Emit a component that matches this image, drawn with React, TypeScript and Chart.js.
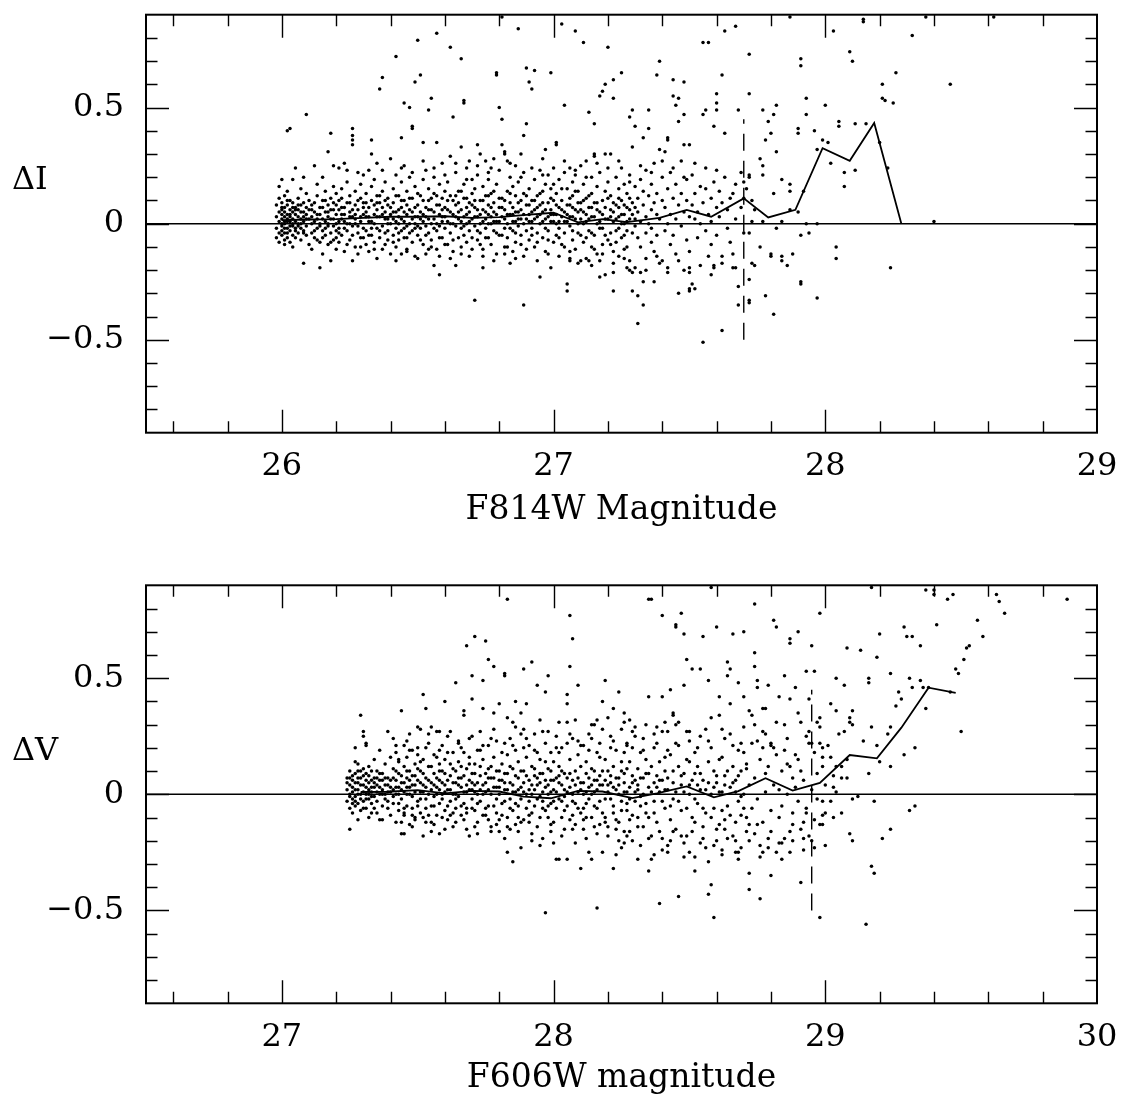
import React, { useEffect, useRef } from "react";
import { Chart, registerables } from "chart.js";

Chart.register(...registerables);

// ---------------- axis labels / ticks ----------------
const TOP_X_LABELS = [26, 27, 28, 29];
const BOTTOM_X_LABELS = [27, 28, 29, 30];
const Y_LABELS = [-0.5, 0, 0.5];

// ---------------- top panel: F814W (ΔI) ----------------
// flat lists of (magnitude, ΔI) pairs
const topStars1 = [
  25.98,.03, 25.98,-.02, 25.98,.08, 25.98,-.06, 25.99,.01, 25.99,.05, 25.99,-.04, 25.99,.11, 25.99,-.08, 25.99,.16,
  26.00,.02, 26.00,-.01, 26.00,.06, 26.00,-.05, 26.00,.09, 26.00,-.03, 26.00,.19, 26.00,.04, 26.01,-.07, 26.01,.00,
  26.01,.03, 26.01,.07, 26.01,-.02, 26.01,.12, 26.01,-.09, 26.01,.05, 26.02,.01, 26.02,-.04, 26.02,.08, 26.02,.04,
  26.02,-.06, 26.02,.02, 26.02,.14, 26.03,-.01, 26.03,.06, 26.03,.03, 26.03,-.08, 26.03,.10, 26.03,.41, 26.03,-.03,
  26.04,.00, 26.04,.05, 26.04,-.05, 26.04,.09, 26.04,.19, 26.04,.02, 26.04,-.10, 26.05,.04, 26.05,-.02, 26.05,.07,
  26.05,.24, 26.05,.01, 26.05,-.06, 26.06,.03, 26.06,-.01, 26.06,.11, 26.06,-.04, 26.06,.06, 26.07,.00, 26.07,.08,
  26.07,-.07, 26.07,.02, 26.07,.15, 26.08,.05, 26.08,-.03, 26.08,.20, 26.08,-.17, 26.08,.01, 26.08,.09, 26.09,-.05,
  26.09,.04, 26.09,.47, 26.09,.13, 26.09,-.01, 26.10,.06, 26.10,-.09, 26.10,.02, 26.10,.10, 26.02,.40,
  26.11,.03, 26.11,-.04, 26.11,.08, 26.11,-.11, 26.12,.01, 26.12,.25, 26.12,.05, 26.12,-.06, 26.13,.12, 26.13,-.02,
  26.13,.04, 26.13,.17, 26.14,-.08, 26.14,.00, 26.14,-.19, 26.14,.07, 26.15,.20, 26.15,.02, 26.15,-.03, 26.15,.10,
  26.15,-.13, 26.16,.05, 26.16,-.05, 26.16,.14, 26.16,.01, 26.17,.31, 26.17,-.01, 26.17,.08, 26.17,-.09, 26.17,.03,
  26.18,.39, 26.18,.06, 26.18,-.04, 26.18,.11, 26.18,-.16, 26.19,.25, 26.19,.02, 26.19,-.07, 26.19,.09, 26.19,.16,
  26.20,.00, 26.20,-.03, 26.20,.04, 26.20,.13, 26.20,-.11,
  26.21,.24, 26.21,.06, 26.21,-.02, 26.21,.10, 26.21,-.08, 26.22,.02, 26.22,.15, 26.22,-.05, 26.22,.07, 26.23,.26,
  26.23,.01, 26.23,-.12, 26.23,.04, 26.24,.23, 26.24,-.03, 26.24,.09, 26.24,.18, 26.25,.00, 26.25,-.07, 26.25,.05,
  26.25,.12, 26.26,.41, 26.26,.38, 26.26,.36, 26.26,.34, 26.26,-.16, 26.26,.03, 26.26,-.01, 26.27,.08, 26.27,-.10,
  26.27,.14, 26.27,.02, 26.28,.22, 26.28,-.04, 26.28,.06, 26.28,-.13, 26.29,.11, 26.29,.01, 26.29,-.06, 26.29,.17,
  26.30,.21, 26.30,.04, 26.30,-.02, 26.30,.09,
  26.31,-.09, 26.31,.13, 26.31,.03, 26.31,-.03, 26.32,.23, 26.32,.07, 26.32,-.12, 26.32,.01, 26.33,.36, 26.33,.30,
  26.33,.10, 26.33,-.05, 26.33,.16, 26.34,.04, 26.34,-.08, 26.34,.19, 26.34,.00, 26.35,.26, 26.35,.06, 26.35,-.02,
  26.35,-.15, 26.35,.12, 26.36,.58, 26.36,.03, 26.36,.09, 26.36,-.06, 26.37,.63, 26.37,.23, 26.37,-.01, 26.37,.14,
  26.37,-.11, 26.38,.05, 26.38,.02, 26.38,-.04, 26.38,.18, 26.39,.08, 26.39,-.07, 26.39,.11, 26.39,.00, 26.40,.28,
  26.40,.04, 26.40,-.13,
];

const topStars2 = [
  26.41,.02, 26.41,-.05, 26.41,.09, 26.41,.15, 26.42,.72, 26.42,-.02, 26.42,.05, 26.42,.21, 26.42,-.10, 26.43,.00,
  26.43,.12, 26.43,-.07, 26.43,.03, 26.44,.37, 26.44,.18, 26.44,-.03, 26.44,.07, 26.44,-.13, 26.45,.52, 26.45,.01,
  26.45,.10, 26.45,-.06, 26.45,.25, 26.46,.04, 26.46,-.01, 26.46,.14, 26.46,-.11, 26.47,.50, 26.47,.06, 26.47,-.04,
  26.47,.20, 26.48,.42, 26.48,.41, 26.48,.02, 26.48,-.08, 26.48,.11, 26.49,.61, 26.49,.00, 26.49,.16, 26.49,-.02,
  26.49,-.14, 26.50,.79, 26.50,.08, 26.50,-.05, 26.50,.03,
  26.51,.64, 26.51,.12, 26.51,-.02, 26.51,.05, 26.52,.35, 26.52,.19, 26.52,-.09, 26.52,.01, 26.53,-.13, 26.53,.07,
  26.53,.23, 26.53,.03, 26.54,.49, 26.54,-.04, 26.54,.10, 26.54,.15, 26.55,.54, 26.55,.00, 26.55,.06, 26.55,-.07,
  26.56,-.18, 26.56,.13, 26.56,.02, 26.56,.20, 26.57,.82, 26.57,.35, 26.57,-.03, 26.57,.08, 26.57,-.11, 26.58,-.22,
  26.58,.04, 26.58,.17, 26.58,-.01, 26.59,.11, 26.59,.26, 26.59,-.06, 26.59,.03, 26.60,.07, 26.60,-.02, 26.60,.14,
  26.61,.01, 26.61,-.09, 26.61,.18, 26.62,.76, 26.62,.29, 26.62,.05, 26.62,-.04, 26.63,.46, 26.63,.10, 26.63,.00,
  26.63,-.12, 26.64,-.18, 26.64,.03, 26.64,.22, 26.64,.08, 26.65,-.06, 26.65,.14, 26.65,.02, 26.66,.71, 26.66,.33,
  26.66,.06, 26.66,-.02, 26.66,-.10, 26.67,.53, 26.67,.52, 26.67,.11, 26.67,.17, 26.67,-.05, 26.68,.04, 26.68,-.08,
  26.68,.24, 26.68,.00, 26.69,.27, 26.69,.09, 26.69,-.03, 26.69,-.14, 26.70,.13, 26.70,.02, 26.70,.19,
  26.71,-.33, 26.71,.07, 26.71,-.01, 26.71,.15, 26.72,.34, 26.72,.03, 26.72,-.07, 26.72,.21, 26.73,.30, 26.73,.10,
  26.73,-.04, 26.73,.00, 26.74,-.19, 26.74,.06, 26.74,.16, 26.74,-.11, 26.75,.27, 26.75,.02, 26.75,.12, 26.75,-.02,
  26.76,.08, 26.76,-.06, 26.76,.19, 26.76,.04, 26.77,.24, 26.77,.00, 26.77,-.09, 26.77,.13, 26.78,.28, 26.78,.05,
  26.78,-.03, 26.78,.09, 26.79,.65, 26.79,.64, 26.79,.01, 26.79,-.13, 26.79,.17, 26.80,.50, 26.80,.07, 26.80,-.05,
  26.81,.89, 26.81,.45, 26.81,.34, 26.81,.03, 26.81,.11, 26.82,.31, 26.82,.30, 26.82,-.02, 26.82,.06, 26.82,-.10,
  26.83,.27, 26.83,.14, 26.83,.00, 26.83,-.06, 26.84,-.17, 26.84,.09, 26.84,.20, 26.84,.04, 26.85,-.03, 26.85,.16,
  26.85,.07, 26.85,-.12, 26.86,.01, 26.86,.12, 26.86,.25, 26.86,-.08, 26.87,.84, 26.87,.05, 26.87,-.01, 26.87,.18,
  26.88,.30, 26.88,.10, 26.88,-.05, 26.88,.02, 26.89,.38, 26.89,-.35, 26.89,.13, 26.89,.22, 26.89,-.14, 26.90,.67,
  26.90,.08, 26.90,-.03,
  26.90,.43, 26.91,.61, 26.91,.04, 26.91,.15, 26.91,-.07, 26.92,.58, 26.92,.01, 26.92,.10, 26.92,-.02, 26.93,.66,
  26.93,.19, 26.93,.06, 26.93,-.10, 26.94,.03, 26.94,.12, 26.94,-.04, 26.95,-.23, 26.95,.08, 26.95,.23, 26.95,.00,
  26.96,.14, 26.96,-.06, 26.96,.05, 26.96,.28, 26.97,.32, 26.97,.02, 26.97,-.12, 26.97,.17, 26.98,.09, 26.98,.21,
  26.98,-.03, 26.99,.65, 26.99,-.19, 26.99,.06, 26.99,.11, 26.99,.01, 27.00,.24, 27.00,.04, 27.00,-.08,
];

const topStars3 = [
  27.01,.35, 27.01,.34, 27.01,.13, 27.01,.00, 27.01,-.05, 27.02,.07, 27.02,.19, 27.02,-.02, 27.03,.86, 27.03,.03,
  27.03,.10, 27.03,-.09, 27.04,.51, 27.04,.22, 27.04,.05, 27.04,-.04, 27.05,-.26, 27.05,-.29, 27.05,.15, 27.05,.01,
  27.06,-.15, 27.06,-.16, 27.06,.24, 27.06,.08, 27.06,-.01, 27.07,.18, 27.07,.03, 27.07,-.07, 27.07,.12, 27.08,.83,
  27.08,.21, 27.08,.06, 27.08,-.11, 27.09,-.17, 27.09,.14, 27.09,.00, 27.09,-.04, 27.10,.09, 27.10,.25, 27.10,.02,
  27.11,.78, 27.11,.05, 27.11,-.08, 27.11,.17, 27.12,-.15, 27.12,.11, 27.12,.01, 27.12,.27, 27.13,-.16, 27.13,.48,
  27.13,.07, 27.13,-.03, 27.14,.20, 27.14,.03, 27.14,-.10, 27.14,.13, 27.15,.30, 27.15,.29, 27.15,.43, 27.15,-.05,
  27.15,.09, 27.16,.00, 27.16,.16, 27.16,-.13, 27.17,.55, 27.17,-.23, 27.17,-.16, 27.17,.05, 27.17,.22, 27.18,.57,
  27.18,.10, 27.18,-.02, 27.19,.60, 27.19,.30, 27.19,-.22, 27.19,.02, 27.19,.14, 27.20,.76, 27.20,-.07, 27.20,.18,
  27.21,.30, 27.21,.06, 27.21,.12, 27.21,-.04, 27.22,.62, 27.22,.54, 27.22,-.21, 27.22,-.29, 27.22,-.12, 27.22,.01,
  27.23,.20, 27.23,.08, 27.23,-.08, 27.24,.15, 27.24,.03, 27.24,-.02, 27.24,-.14, 27.25,.65, 27.25,.24, 27.25,.10,
  27.25,-.06, 27.26,.04, 27.26,.17, 27.26,-.11, 27.26,.00, 27.27,-.19, 27.27,.13, 27.27,.07, 27.27,-.03, 27.28,.46,
  27.28,-.16, 27.28,-.20, 27.28,.21, 27.28,.02, 27.29,.49, 27.29,-.29, 27.29,-.21, 27.29,.33, 27.29,.09, 27.30,.42,
  27.30,-.01, 27.30,.16,
  27.31,-.43, 27.31,-.31, 27.31,.05, 27.31,.11, 27.31,-.06, 27.32,-.21, 27.32,.19, 27.32,.01, 27.32,-.10, 27.33,.37,
  27.33,-.25, 27.33,-.35, 27.33,.08, 27.33,.14, 27.34,.03, 27.34,-.04, 27.34,.23, 27.34,-.15, 27.35,.49, 27.35,.41,
  27.35,.12, 27.35,.00, 27.36,.06, 27.36,-.08, 27.36,.17, 27.36,-.02, 27.37,-.25, 27.37,.09, 27.37,-.12, 27.37,.26,
  27.38,.64, 27.38,.04, 27.38,.13, 27.38,-.05, 27.39,.70, 27.39,.32, 27.39,.02, 27.39,-.17, 27.40,.10, 27.40,-.16,
  27.40,.20,
  27.41,.07, 27.41,-.03, 27.41,.31, 27.42,.37, 27.42,.36, 27.42,-.19, 27.42,.15, 27.42,.00, 27.43,.04, 27.43,-.09,
  27.43,.22, 27.44,.62, 27.44,.55, 27.44,.11, 27.44,-.05, 27.45,.51, 27.45,.02, 27.45,-.13, 27.45,.17, 27.46,.44,
  27.46,.54, 27.46,-.30, 27.46,.08, 27.47,-.01, 27.47,.13, 27.47,.27, 27.48,.61, 27.48,.47, 27.48,.34, 27.48,-.20,
  27.48,.05, 27.49,.19, 27.49,-.07, 27.49,.10, 27.50,.34, 27.50,-.29, 27.50,-.28, 27.50,-.19, 27.50,-.21, 27.50,.03,
  27.51,-.26, 27.51,.08, 27.51,.21, 27.52,-.28, 27.52,.02, 27.52,.13, 27.53,.05, 27.53,-.06, 27.54,.16, 27.54,.00,
  27.55,.47, 27.55,.78, 27.55,-.51, 27.55,.09, 27.56,.49, 27.56,-.03, 27.56,.24, 27.57,.78, 27.57,-.14, 27.57,.04,
  27.58,.11, 27.58,-.09, 27.58,.01, 27.59,.42, 27.59,-.19, 27.59,-.18, 27.59,.18, 27.60,.56, 27.60,.52, 27.60,.49,
  27.60,.07, 27.60,-.05,
];

const topStars4 = [
  27.61,.14, 27.61,.03, 27.62,.64, 27.62,-.14, 27.62,-.17, 27.62,-.46, 27.62,.09, 27.63,.83, 27.63,.39, 27.63,.20,
  27.64,.06, 27.64,-.02, 27.65,.11, 27.65,-.08, 27.66,-.19, 27.66,-.13, 27.66,.13, 27.67,.85, 27.67,-.19, 27.67,.17,
  27.67,.02, 27.68,.49, 27.68,-.27, 27.68,-.35, 27.69,.07, 27.69,.22, 27.70,-.04, 27.70,.18, 27.70,.11,
  27.71,.15, 27.72,.73, 27.72,.56, 27.72,.20, 27.72,.21, 27.72,-.24, 27.72,-.33, 27.72,-.34, 27.72,-.04, 27.73,.10,
  27.73,.01, 27.73,-.17, 27.74,-.18, 27.74,.06, 27.76,.28, 27.76,-.10, 27.77,.49, 27.77,.25, 27.77,.21, 27.77,.01,
  27.78,.36, 27.78,-.31, 27.79,.44, 27.80,.39, 27.80,-.13, 27.80,-.14,
  27.81,.47, 27.81,.13, 27.81,-.39, 27.82,.51, 27.82,.31, 27.82,-.02, 27.84,.19, 27.84,.01, 27.84,-.14, 27.84,-.16,
  27.86,-.18, 27.87,.89, 27.87,.17, 27.87,.14, 27.87,.06, 27.88,-.13, 27.90,.41, 27.90,.05,
  27.91,.71, 27.91,.68, 27.91,-.05, 27.91,-.25, 27.91,-.26, 27.90,.39, 27.92,.14, 27.93,.54, 27.93,.47, 27.93,.00,
  27.94,-.04, 27.96,.40, 27.97,.32, 27.97,.00, 27.97,-.32, 27.99,.36, 28.00,.51,
  28.01,.35, 28.02,.26, 28.03,.83, 28.04,-.10, 28.04,-.15, 28.05,.44, 28.05,.42, 28.07,.22, 28.07,.16, 28.09,.74,
  28.10,.70, 28.11,.43, 28.11,.23, 28.14,.88, 28.14,.87, 28.15,.43, 28.20,.35, 28.21,.60, 28.21,.54, 28.22,.53,
  28.23,.24, 28.24,-.19, 28.25,.52, 28.26,.65, 28.32,.81, 28.37,.89, 28.40,.01, 28.46,.60, 28.62,.89,
];

const topStarsCore = [
  26.11,.00, 26.11,.06, 26.12,-.03, 26.12,.09, 26.13,-.07, 26.13,.02, 26.14,.04, 26.14,-.01, 26.15,.07, 26.15,-.06,
  26.16,.10, 26.16,-.02, 26.17,.00, 26.17,.05, 26.18,-.08, 26.18,.02, 26.19,.06, 26.19,-.01, 26.20,.08, 26.20,-.06,
  26.21,.01, 26.21,-.04, 26.22,.04, 26.22,.11, 26.23,-.02, 26.23,.07, 26.24,.00, 26.24,-.09, 26.25,.03, 26.25,.09,
  26.26,.06, 26.26,-.05, 26.27,.00, 26.27,.04, 26.28,.10, 26.28,-.01, 26.29,.03, 26.29,-.10, 26.30,.07, 26.30,-.06,
  26.31,.05, 26.31,.09, 26.32,-.05, 26.32,.03, 26.33,.01, 26.33,-.02, 26.34,.08, 26.34,-.11, 26.35,.03, 26.35,.09,
  26.36,-.03, 26.36,.12, 26.37,.04, 26.37,.07, 26.38,-.09, 26.38,.10, 26.39,.02, 26.39,-.03, 26.40,.07, 26.40,.00,
  26.41,.05, 26.41,-.08, 26.42,.01, 26.42,.12, 26.43,.06, 26.43,-.04, 26.44,.02, 26.44,.10, 26.45,-.02, 26.45,.05,
  26.46,.08, 26.46,-.06, 26.47,.00, 26.47,.11, 26.48,.05, 26.48,-.03, 26.49,.07, 26.49,.03, 26.50,-.01, 26.50,.13,
  26.51,.02, 26.51,-.07, 26.52,.04, 26.52,.10, 26.53,-.01, 26.53,-.05, 26.54,.06, 26.54,.02, 26.55,.11, 26.55,-.10,
  26.56,.05, 26.56,-.02, 26.57,.00, 26.57,.12, 26.58,.08, 26.58,-.06, 26.59,.01, 26.59,.06, 26.60,.03, 26.60,-.09,
  26.61,.06, 26.61,.10, 26.62,.00, 26.62,.12, 26.63,.04, 26.63,-.07, 26.64,-.01, 26.64,.12, 26.65,.05, 26.65,.09,
  26.66,.01, 26.66,.14, 26.67,.03, 26.67,-.01, 26.68,.07, 26.68,.11, 26.69,.01, 26.69,.05, 26.70,-.06, 26.70,.08,
  26.71,.03, 26.71,.10, 26.72,-.03, 26.72,.06, 26.73,.04, 26.73,-.09, 26.74,.01, 26.74,.10, 26.75,.05, 26.75,-.06,
  26.76,.00, 26.76,.12, 26.77,.03, 26.77,.07, 26.78,.01, 26.78,.14, 26.79,.04, 26.79,-.04, 26.80,.01, 26.80,.11,
  26.81,-.05, 26.81,.07, 26.82,.02, 26.82,.10, 26.83,.04, 26.83,-.10, 26.84,-.02, 26.84,.13, 26.85,.01, 26.85,.04,
  26.86,.05, 26.86,-.04, 26.87,.09, 26.87,.02, 26.88,.06, 26.88,-.09, 26.89,.04, 26.89,.00, 26.90,.12, 26.90,.02,
  26.91,.01, 26.91,.08, 26.92,-.05, 26.92,.05, 26.93,.02, 26.93,.10, 26.94,-.08, 26.94,.07, 26.95,.04, 26.95,.13,
  26.96,.01, 26.96,.09, 26.97,.06, 26.97,-.02, 26.98,.03, 26.98,-.07, 26.99,.04, 26.99,.15, 27.00,.01, 27.00,.10,
  27.01,.04, 27.01,.08, 27.02,.01, 27.02,-.06, 27.03,.06, 27.03,.15, 27.04,.01, 27.04,-.10, 27.05,.08, 27.05,.04,
  27.06,.03, 27.06,.11, 27.07,-.03, 27.07,.07, 27.08,.02, 27.08,.14, 27.09,.05, 27.09,.09, 27.10,-.05, 27.10,.06,
  27.11,.00, 27.11,.10, 27.12,.04, 27.12,-.06, 27.13,.12, 27.13,.02, 27.14,-.04, 27.14,.07, 27.15,.03, 27.15,-.11,
  27.16,.06, 27.16,.09, 27.17,-.02, 27.17,.01, 27.18,.04, 27.18,-.09, 27.19,.07, 27.19,-.05, 27.20,.02, 27.20,.11,
  27.21,.03, 27.21,-.09, 27.22,.05, 27.22,.09, 27.23,-.03, 27.23,.02, 27.24,.07, 27.24,.11, 27.25,.00, 27.25,.04,
  27.26,-.05, 27.26,.08, 27.27,.01, 27.27,-.10, 27.28,.06, 27.28,.11, 27.29,.04, 27.29,-.04, 27.30,.02, 27.30,.07,
  26.00,.00, 26.01,.01, 26.02,-.02, 26.03,.04, 26.04,-.01, 26.05,.06, 26.06,.00, 26.07,.05, 26.08,-.04, 26.09,.02,
  26.00,.07, 26.01,-.04, 26.02,.10, 26.03,.01, 26.04,.07, 26.05,-.03, 26.06,.08, 26.07,-.02, 26.08,.03, 26.09,.07,
];

const topStarsWide = [
  26.42,-.16, 26.44,.24, 26.46,-.12, 26.48,.22, 26.50,-.15, 26.52,.27, 26.54,-.11, 26.56,.24, 26.58,-.14, 26.60,.21,
  26.62,-.15, 26.64,.26, 26.66,-.13, 26.68,.19, 26.70,-.11, 26.72,.25, 26.74,-.14, 26.76,.22, 26.78,-.16, 26.80,.23,
  26.82,-.13, 26.84,.26, 26.86,-.15, 26.88,.20, 26.90,-.11, 26.92,.24, 26.94,-.16, 26.96,.21, 26.98,-.13, 27.00,.17,
  27.02,-.14, 27.04,.27, 27.06,-.12, 27.08,.23, 27.10,-.16, 27.12,.20, 27.14,-.18, 27.16,.26, 27.18,-.13, 27.20,.24,
  27.22,-.17, 27.24,.27, 27.26,-.15, 27.28,.18, 27.30,-.19, 27.32,.25, 27.34,-.20, 27.36,.22, 27.38,-.14, 27.40,.27,
  27.42,-.21, 27.44,.24, 27.46,-.16, 27.48,.20, 27.50,-.12, 27.52,.26, 27.54,-.18, 27.56,.15, 27.58,-.22, 27.60,.23,
];

const topMedianX = [26.0, 26.1, 26.2, 26.3, 26.4, 26.5, 26.6, 26.7, 26.8, 26.9, 27.0, 27.09, 27.18, 27.27, 27.39, 27.49, 27.58, 27.70, 27.79, 27.89, 27.99, 28.09, 28.18, 28.28];
const topMedianY = [0.015, 0.018, 0.02, 0.025, 0.03, 0.03, 0.032, 0.025, 0.028, 0.038, 0.047, 0.006, 0.02, 0.007, 0.025, 0.059, 0.03, 0.109, 0.027, 0.06, 0.325, 0.271, 0.434, 0.0];
const topLimitMag = 27.7;
const topLimitRange = [-0.5, 0.45];

// ---------------- bottom panel: F606W (ΔV) ----------------
const bottomStars1 = [
  27.24,.02, 27.24,-.03, 27.24,.07, 27.25,.00, 27.25,-.15, 27.25,.04, 27.25,-.06, 27.25,.10, 27.26,.01, 27.26,-.02,
  27.26,.06, 27.26,-.08, 27.26,.03, 27.27,.20, 27.27,.14, 27.27,-.01, 27.27,.05, 27.27,-.05, 27.27,.09, 27.28,.13,
  27.28,-.11, 27.28,.02, 27.28,.00, 27.28,-.04, 27.28,.07, 27.29,.34, 27.29,.10, 27.29,-.02, 27.29,.04, 27.29,-.07,
  27.30,.27, 27.30,.25, 27.30,.01, 27.30,.08, 27.30,-.03, 27.30,.11,
  27.31,.22, 27.31,.21, 27.31,.03, 27.31,-.06, 27.31,.00, 27.31,.09, 27.32,-.10, 27.32,.05, 27.32,-.02, 27.32,.12,
  27.32,.02, 27.33,.10, 27.33,-.04, 27.33,.06, 27.33,.01, 27.33,-.08, 27.34,.03, 27.34,.15, 27.34,-.01, 27.34,.07,
  27.35,-.08, 27.35,.10, 27.35,.04, 27.35,-.03, 27.36,-.11, 27.36,.00, 27.36,.06, 27.36,.19, 27.37,-.11, 27.37,.02,
  27.37,.09, 27.37,-.05, 27.38,.13, 27.38,.04, 27.38,-.02, 27.39,.27, 27.39,.07, 27.39,-.06, 27.39,.01, 27.40,.16,
  27.40,-.09, 27.40,.03,
  27.41,.11, 27.41,.02, 27.41,-.04, 27.41,.24, 27.42,.06, 27.42,-.12, 27.42,.00, 27.42,.18, 27.43,.09, 27.43,-.07,
  27.43,.03, 27.43,.14, 27.44,.36, 27.44,-.17, 27.45,-.17, 27.44,.05, 27.44,-.02, 27.45,.21, 27.45,.01, 27.45,-.09,
  27.45,.12, 27.46,.07, 27.46,-.05, 27.46,.16, 27.46,.00, 27.47,.03, 27.47,.26, 27.47,-.13, 27.47,.10, 27.48,-.01,
  27.48,.08, 27.48,.19, 27.48,-.06, 27.49,.13, 27.49,.04, 27.49,-.10, 27.50,.29, 27.50,.06, 27.50,-.03, 27.50,.20,
  27.51,.28, 27.51,.01, 27.51,.10, 27.51,-.08, 27.52,.43, 27.52,-.18, 27.52,.04, 27.52,.15, 27.53,.37, 27.53,-.02,
  27.53,.07, 27.53,-.12, 27.54,.22, 27.54,.00, 27.54,.12, 27.55,.29, 27.55,-.16, 27.55,.05, 27.55,-.05, 27.56,.09,
  27.56,.17, 27.56,-.01, 27.57,.27, 27.58,.27, 27.57,-.09, 27.57,.03, 27.58,-.17, 27.58,.13, 27.58,.06, 27.58,-.04,
  27.59,.21, 27.59,.00, 27.59,.10, 27.60,.40, 27.60,-.07, 27.60,.04, 27.60,.15,
  27.61,.02, 27.61,.25, 27.61,-.11, 27.62,.08, 27.62,.13, 27.62,-.03, 27.63,.18, 27.63,.00, 27.63,-.14, 27.64,.48,
  27.64,.05, 27.64,.10, 27.64,-.06, 27.65,.22, 27.65,-.01, 27.65,.14, 27.66,.03, 27.66,-.09, 27.66,.07, 27.67,.36,
  27.67,.34, 27.67,.18, 27.67,-.04, 27.68,.64, 27.68,.01, 27.68,.11, 27.68,-.15, 27.69,-.18, 27.69,.06, 27.69,.24,
  27.70,.51, 27.70,.41, 27.70,.02, 27.70,-.02, 27.70,.09,
];

const bottomStars2 = [
  27.71,.68, 27.71,.13, 27.71,-.07, 27.71,.04, 27.72,.19, 27.72,.00, 27.72,-.12, 27.73,.08, 27.73,.27, 27.73,-.03,
  27.74,.49, 27.74,.37, 27.74,.15, 27.74,-.09, 27.75,.66, 27.75,.05, 27.75,.01, 27.76,.58, 27.76,.21, 27.76,-.05,
  27.76,.11, 27.77,-.16, 27.77,.07, 27.77,-.14, 27.78,.55, 27.78,.35, 27.78,.03, 27.78,.16, 27.79,-.08, 27.79,.10,
  27.79,.23, 27.80,.39, 27.80,.00, 27.80,-.11, 27.80,.06,
  27.81,.13, 27.81,-.04, 27.82,.52, 27.82,.51, 27.82,-.19, 27.82,.09, 27.82,.02, 27.83,.84, 27.83,.33, 27.83,-.25,
  27.83,.17, 27.83,-.10, 27.84,.05, 27.84,.24, 27.84,-.02, 27.85,.31, 27.85,-.29, 27.85,.11, 27.85,-.07, 27.86,.40,
  27.86,.01, 27.86,.19, 27.86,-.13, 27.87,.07, 27.87,.14, 27.87,-.05, 27.88,.35, 27.88,-.23, 27.88,.03, 27.88,.26,
  27.89,.54, 27.89,.28, 27.89,.10, 27.89,-.11, 27.90,.39, 27.90,.00, 27.90,.16,
  27.91,-.03, 27.91,.21, 27.91,.06, 27.92,.57, 27.92,-.20, 27.92,.12, 27.92,-.08, 27.93,.02, 27.93,.19, 27.93,.08,
  27.94,.47, 27.94,-.14, 27.94,.04, 27.95,.32, 27.95,-.22, 27.95,-.01, 27.95,.15, 27.96,.27, 27.96,.09, 27.96,-.06,
  27.97,.44, 27.97,-.51, 27.97,.03, 27.97,.22, 27.98,.51, 27.98,-.10, 27.98,.11, 27.98,.00, 27.99,-.16, 27.99,.06,
  27.99,.18, 27.99,-.04, 28.00,.14, 28.00,-.12, 28.00,.02,
  28.01,-.28, 28.01,.25, 28.01,.07, 28.02,.31, 28.02,-.28, 28.02,-.02, 28.02,.12, 28.03,-.18, 28.03,.04, 28.03,.20,
  28.04,.09, 28.04,-.07, 28.05,.31, 28.05,.43, 28.05,.39, 28.05,-.28, 28.05,.01, 28.06,.77, 28.06,.55, 28.06,.15,
  28.06,-.11, 28.07,.67, 28.07,.06, 28.07,-.03, 28.07,.24, 28.08,.32, 28.08,-.21, 28.08,.10, 28.09,.47, 28.09,.01,
  28.09,.17, 28.10,-.32, 28.10,.05, 28.10,-.08,
  28.11,.21, 28.11,.00, 28.11,-.15, 28.12,.09, 28.12,.14, 28.12,-.04, 28.13,-.25, 28.13,.03, 28.13,.26, 28.14,.30,
  28.14,-.28, 28.14,.11, 28.14,-.10, 28.15,.30, 28.15,.06, 28.15,.01, 28.16,.32, 28.16,-.49, 28.16,.18, 28.16,-.06,
  28.17,.08, 28.17,-.13, 28.17,.22, 28.18,.40, 28.18,-.25, 28.18,.04, 28.19,.49, 28.19,.15, 28.19,-.02, 28.20,.33,
  28.20,.10, 28.20,-.18,
  28.21,.05, 28.21,.25, 28.22,.37, 28.22,-.32, 28.22,-.08, 28.22,.12, 28.23,-.26, 28.23,.02, 28.23,.19, 28.24,.44,
  28.24,.07, 28.24,-.12, 28.25,-.23, 28.25,.28, 28.25,-.03, 28.26,.35, 28.26,.31, 28.26,-.21, 28.26,-.16, 28.26,.09,
  28.27,.22, 28.27,.21, 28.27,.01, 28.27,-.07, 28.28,.32, 28.28,.14, 28.28,-.11, 28.29,-.20, 28.29,.05, 28.29,.27,
  28.30,.29, 28.30,-.03,
];

const bottomStars3 = [
  28.31,-.28, 28.31,.11, 28.31,.02, 28.31,-.10, 28.32,.18, 28.32,-.05, 28.32,.07, 28.33,-.14, 28.33,.24, 28.33,.00,
  28.34,.09, 28.34,-.08, 28.34,.15, 28.35,.84, 28.35,.42, 28.35,-.33, 28.35,.03, 28.35,-.19, 28.36,.84, 28.36,-.28,
  28.37,-.26, 28.36,.12, 28.37,.05, 28.37,-.03, 28.37,.20, 28.38,-.12, 28.38,.08, 28.38,.29, 28.39,-.47, 28.39,.01,
  28.39,.14, 28.40,.77, 28.40,.42, 28.40,.27, 28.40,-.19, 28.40,.06,
  28.41,.31, 28.41,-.06, 28.41,.10, 28.42,.27, 28.42,-.25, 28.42,-.22, 28.42,.02, 28.43,.45, 28.43,.17, 28.43,-.11,
  28.44,.35, 28.44,.34, 28.44,.05, 28.44,-.02, 28.45,.73, 28.45,.72, 28.45,.30, 28.45,-.15, 28.46,-.44, 28.46,.12,
  28.46,.21, 28.47,.78, 28.47,-.07, 28.47,.08, 28.48,.69, 28.48,.47, 28.48,-.21, 28.48,.01, 28.49,.58, 28.49,-.18,
  28.49,.15, 28.50,.27, 28.50,-.25, 28.50,.04, 28.50,.23,
  28.51,.54, 28.51,-.10, 28.52,-.33, 28.52,-.27, 28.52,.09, 28.52,.18, 28.53,-.04, 28.53,.12, 28.54,.54, 28.54,-.21,
  28.54,.02, 28.55,.68, 28.55,.06, 28.55,-.14, 28.56,.28, 28.56,-.08, 28.57,.49, 28.57,-.29, 28.57,-.43, 28.57,.14,
  28.58,.89, 28.58,-.39, 28.58,.00, 28.58,.20, 28.59,-.53, 28.59,-.06, 28.59,.10, 28.60,.72, 28.60,-.20, 28.60,.05,
  28.61,.42, 28.61,.34, 28.61,-.13, 28.62,-.26, 28.62,-.24, 28.62,.16, 28.62,.01, 28.63,-.15, 28.63,.08, 28.63,.24,
  28.64,.57, 28.64,.51, 28.64,-.05, 28.65,.54, 28.65,.39, 28.65,.03, 28.66,.69, 28.66,-.18, 28.66,.12, 28.67,-.12,
  28.67,-.25, 28.68,-.25, 28.67,.06, 28.68,.48, 28.68,.19, 28.68,-.03, 28.69,-.09, 28.69,-.23, 28.69,.10, 28.70,.70,
  28.70,.42, 28.70,.00, 28.70,.29,
  28.71,.13, 28.71,.11, 28.71,-.10, 28.72,.36, 28.72,-.20, 28.72,-.34, 28.72,-.41, 28.72,.04, 28.73,.22, 28.73,-.06,
  28.74,.82, 28.74,.61, 28.74,.55, 28.74,-.17, 28.74,.07, 28.75,.49, 28.75,.46, 28.75,.23, 28.75,-.02, 28.76,-.27,
  28.76,-.45, 28.76,.15, 28.77,.37, 28.78,.37, 28.77,.20, 28.77,-.25, 28.77,-.12, 28.78,.09, 28.78,.01, 28.79,.47,
  28.79,-.19, 28.79,.12, 28.80,.21, 28.80,.22, 28.80,-.35, 28.80,-.07,
  28.81,.75, 28.81,.04, 28.82,.72, 28.82,-.25, 28.82,.17, 28.83,.42, 28.83,-.21, 28.84,-.21, 28.83,.02, 28.84,.10,
  28.84,-.05, 28.85,.51, 28.85,.19, 28.85,-.19, 28.86,.13, 28.86,.00, 28.87,.65, 28.87,.67, 28.87,.41, 28.87,.12,
  28.87,-.16, 28.88,-.20, 28.88,-.08, 28.88,.07, 28.89,.46, 28.89,.03, 28.90,.70, 28.90,.15, 28.90,-.03,
  28.91,.31, 28.91,-.38, 28.91,.10, 28.92,-.24, 28.92,-.12, 28.92,.06, 28.93,.53, 28.93,-.08, 28.93,-.06, 28.94,.41,
  28.94,.22, 28.95,.22, 28.94,-.18, 28.95,.64, 28.95,.02, 28.96,.53, 28.96,.18, 28.96,-.23, 28.97,-.02, 28.97,.09,
  28.98,.78, 28.98,.33, 28.98,.22, 28.98,-.53, 28.98,-.13, 28.99,-.13, 28.99,.20, 28.99,.12, 28.99,.16, 28.99,-.09,
  29.00,-.08, 29.00,.04,
];

const bottomStars4 = [
  29.02,.39, 29.02,.16, 29.02,-.03, 29.03,.03, 29.03,-.10, 29.03,.08, 29.04,.36, 29.04,.50, 29.04,.12, 29.04,.01,
  29.05,.26, 29.06,-.08, 29.06,.07, 29.06,.12, 29.07,.47, 29.07,.27, 29.08,.63, 29.08,.15, 29.08,.07, 29.09,.33,
  29.09,.31, 29.09,-.17, 29.10,.36, 29.10,.30, 29.10,-.20, 29.10,-.02, 29.12,-.01, 29.14,.23, 29.13,.62, 29.15,-.56,
  29.16,.50, 29.16,.48, 29.16,.09, 29.17,.89, 29.17,.29, 29.17,-.31, 29.18,-.34, 29.18,-.03, 29.19,.59, 29.19,.21,
  29.20,.69, 29.20,.14, 29.21,-.19, 29.23,.26, 29.24,.52, 29.24,.29, 29.24,.12, 29.24,-.15, 29.26,.38, 29.27,.44,
  29.28,.41, 29.29,.72, 29.29,.17, 29.30,.68, 29.31,.50, 29.31,-.07, 29.32,.68, 29.32,.46, 29.33,.20, 29.33,-.05,
  29.35,.64, 29.35,.49, 29.36,.46, 29.37,.88, 29.37,.37, 29.38,.46, 29.40,.88, 29.40,.86, 29.41,.73, 29.45,.84,
  29.46,.44, 29.47,.86, 29.48,.54, 29.49,.52, 29.50,.27, 29.51,.58, 29.52,.63, 29.53,.64, 29.56,.75, 29.58,.68,
  29.63,.86, 29.64,.83, 29.66,.78, 29.89,.84,
];

const bottomStarsCore = [
  27.24,.05, 27.25,-.01, 27.26,.08, 27.27,.02, 27.28,.05, 27.29,.00, 27.30,.04, 27.31,.06, 27.32,.00, 27.33,.03,
  27.34,.05, 27.35,.01, 27.36,.03, 27.37,.06, 27.38,.00, 27.39,.04, 27.40,.01, 27.25,.07, 27.26,-.04, 27.27,-.03,
  27.28,.10, 27.29,.07, 27.30,-.06, 27.31,-.02, 27.32,.08, 27.33,-.01, 27.34,-.06, 27.35,.07, 27.36,.09, 27.37,.00,
  27.38,.07, 27.39,-.03, 27.40,.06,
  27.41,.07, 27.41,-.01, 27.42,.03, 27.42,.10, 27.43,.00, 27.43,-.04, 27.44,.08, 27.44,.02, 27.45,.05, 27.45,-.06,
  27.46,.03, 27.46,.10, 27.47,.00, 27.47,.06, 27.48,.04, 27.48,-.09, 27.49,.01, 27.49,.08, 27.50,-.05, 27.50,.11,
  27.51,.05, 27.51,-.02, 27.52,.09, 27.52,.01, 27.53,.03, 27.53,-.06, 27.54,.06, 27.54,-.09, 27.55,.02, 27.55,.12,
  27.56,.04, 27.56,-.05, 27.57,.07, 27.57,.00, 27.58,.02, 27.58,.10, 27.59,-.02, 27.59,.05, 27.60,.01, 27.60,.09,
  27.61,.06, 27.61,-.05, 27.62,.02, 27.62,-.09, 27.63,.05, 27.63,.11, 27.64,.00, 27.64,-.02, 27.65,.07, 27.65,.04,
  27.66,-.05, 27.66,.12, 27.67,.01, 27.67,.08, 27.68,.04, 27.68,-.08, 27.69,.02, 27.69,.13, 27.70,-.06, 27.70,.05,
  27.71,.01, 27.71,.09, 27.72,.05, 27.72,-.04, 27.73,.02, 27.73,.12, 27.74,.00, 27.74,.04, 27.75,-.06, 27.75,.09,
  27.76,.02, 27.76,.07, 27.77,.00, 27.77,.12, 27.78,-.05, 27.78,.07, 27.79,.03, 27.79,-.02, 27.80,.10, 27.80,.03,
  27.81,.06, 27.81,-.09, 27.82,.05, 27.82,-.03, 27.83,.02, 27.83,.09, 27.84,-.06, 27.84,.12, 27.85,.01, 27.85,.04,
  27.86,.08, 27.86,-.04, 27.87,.02, 27.87,-.10, 27.88,.10, 27.88,-.02, 27.89,.01, 27.89,.05, 27.90,-.06, 27.90,.08,
  27.91,.02, 27.91,-.09, 27.92,.04, 27.92,.00, 27.93,-.05, 27.93,.11, 27.94,.07, 27.94,-.02, 27.95,.05, 27.95,.09,
  27.96,-.03, 27.96,.01, 27.97,.06, 27.97,-.07, 27.98,.04, 27.98,-.05, 27.99,.01, 27.99,.10, 28.00,.06, 28.00,-.03,
  28.01,.01, 28.01,-.06, 28.02,.05, 28.02,.08, 28.03,-.03, 28.03,.10, 28.04,.02, 28.04,-.01, 28.05,.07, 28.05,-.05,
  28.06,.03, 28.06,.09, 28.07,.00, 28.07,-.09, 28.08,.04, 28.08,-.04, 28.09,.07, 28.09,-.06, 28.10,.02, 28.10,.12,
  28.11,.05, 28.11,-.06, 28.12,.01, 28.12,-.10, 28.13,.07, 28.13,-.02, 28.14,.04, 28.14,.00, 28.15,-.05, 28.15,.10,
  28.16,.02, 28.16,.06, 28.17,-.03, 28.17,.04, 28.18,.10, 28.18,-.08, 28.19,.06, 28.19,-.12, 28.20,.01, 28.20,.04,
  28.21,-.02, 28.21,.08, 28.22,.03, 28.22,-.05, 28.23,.07, 28.23,-.11, 28.24,.00, 28.24,.04, 28.25,.10, 28.25,-.07,
  28.26,.01, 28.26,.05, 28.27,-.04, 28.27,.11, 28.28,.03, 28.28,-.02, 28.29,.08, 28.29,-.09, 28.30,.06, 28.30,.01,
  28.31,.04, 28.32,-.01, 28.33,.07, 28.34,-.04, 28.35,.09, 28.36,.01, 28.37,-.08, 28.38,.03, 28.39,.06, 28.40,-.03,
  28.41,.02, 28.42,.07, 28.43,-.05, 28.44,.10, 28.45,.01, 28.46,-.03, 28.47,.04, 28.48,.09, 28.49,-.06, 28.50,.00,
  28.51,.06, 28.52,-.02, 28.53,.04, 28.54,.09, 28.55,-.06, 28.56,.02, 28.57,.05, 28.58,-.10, 28.59,.03, 28.60,.08,
  28.61,.01, 28.62,-.07, 28.63,.04, 28.64,.10, 28.65,-.09, 28.66,.05, 28.67,.01, 28.68,.08, 28.69,-.01, 28.70,-.06,
];

const bottomStarsWide = [
  27.42,.21, 27.44,-.12, 27.46,.23, 27.48,-.14, 27.50,.17, 27.52,-.10, 27.54,.26, 27.56,-.13, 27.58,.19, 27.60,-.15,
  27.62,.27, 27.64,-.12, 27.66,.20, 27.68,-.06, 27.70,.25, 27.72,-.17, 27.74,.21, 27.76,-.11, 27.78,.28, 27.80,-.16,
  27.82,.22, 27.84,-.15, 27.86,.29, 27.88,-.12, 27.90,.24, 27.92,-.17, 27.94,.18, 27.96,-.19, 27.98,.27, 28.00,-.21,
  28.02,.18, 28.04,-.15, 28.06,.26, 28.08,-.13, 28.10,.21, 28.12,-.19, 28.14,.24, 28.16,-.17, 28.18,.28, 28.20,-.14,
  28.22,.23, 28.24,-.20, 28.26,.18, 28.28,-.16, 28.30,.25, 28.32,-.22, 28.34,.30, 28.36,-.18, 28.38,.22, 28.40,-.24,
  28.42,.19, 28.44,-.16, 28.46,.31, 28.48,-.27, 28.50,.14, 28.52,-.12, 28.54,.25, 28.56,-.23, 28.58,.33, 28.60,-.15,
  28.62,.28, 28.64,-.19, 28.66,.21, 28.68,-.28, 28.70,.18, 28.72,-.13, 28.74,.30, 28.76,-.22, 28.78,.26, 28.80,-.16,
  28.82,.31, 28.84,-.28, 28.86,.24, 28.88,-.13, 28.90,.35, 28.92,-.19, 28.94,.27, 28.96,-.11, 28.98,.29, 29.00,-.22,
  27.43,.15, 27.45,-.08, 27.47,.19, 27.49,-.11, 27.51,.14, 27.53,.20, 27.55,-.12, 27.57,.16, 27.59,-.10, 27.61,.18,
  27.63,-.08, 27.65,.23, 27.67,-.11, 27.69,.16, 27.71,-.14, 27.73,.19, 27.75,-.09, 27.77,.24, 27.79,-.13, 27.81,.18,
  27.83,-.14, 27.85,.21, 27.87,-.16, 27.89,.20, 27.91,-.12, 27.93,.26, 27.95,-.10, 27.97,.14, 27.99,-.13, 28.01,.20,
  28.03,-.10, 28.05,.22, 28.07,-.15, 28.09,.23, 28.11,-.11, 28.13,.19, 28.15,-.14, 28.17,.16, 28.19,-.10, 28.21,.20,
  28.23,-.15, 28.25,.14, 28.27,-.18, 28.29,.20, 28.31,-.14, 28.33,.19, 28.35,-.10, 28.37,.26, 28.39,-.16, 28.41,.16,
  28.43,-.20, 28.45,.22, 28.47,-.18, 28.49,.27, 28.51,-.16, 28.53,.20, 28.55,-.19, 28.57,.23, 28.59,-.22, 28.61,.15,
  28.63,-.11, 28.65,.26, 28.67,-.20, 28.69,.22, 28.71,-.16, 28.73,.34, 28.75,-.13, 28.77,.27, 28.79,-.23, 28.81,.20,
  28.83,-.10, 28.85,.30, 28.87,-.25, 28.89,.17, 28.91,-.15, 28.93,.25, 28.95,-.20, 28.97,.31, 28.99,-.03, 29.01,.21,
];

const bottomMedianX = [27.29, 27.39, 27.50, 27.60, 27.70, 27.80, 27.89, 27.99, 28.09, 28.18, 28.29, 28.38, 28.49, 28.59, 28.68, 28.78, 28.88, 28.98, 29.09, 29.19, 29.28, 29.38, 29.48];
const bottomMedianY = [0.01, 0.011, 0.018, 0.004, 0.015, 0.012, -0.01, -0.017, 0.015, 0.012, -0.016, 0.004, 0.034, -0.013, 0.014, 0.069, 0.016, 0.049, 0.169, 0.155, 0.287, 0.459, 0.437];
const bottomLimitMag = 28.95;
const bottomLimitRange = [-0.5, 0.45];

// ---------------- helpers ----------------
const FONT = '"DejaVu Serif", "Liberation Serif", serif';

function pairsToPoints(...lists: number[][]) {
  const out: { x: number; y: number }[] = [];
  for (const list of lists) {
    for (let i = 0; i + 1 < list.length; i += 2) out.push({ x: list[i], y: list[i + 1] });
  }
  return out;
}

function zip(xs: number[], ys: number[]) {
  return xs.map((x, i) => ({ x, y: ys[i] }));
}

function tickValues(start: number, end: number, step: number) {
  const vals: number[] = [];
  const n = Math.round((end - start) / step);
  for (let i = 0; i <= n; i++) vals.push(+(start + i * step).toFixed(2));
  return vals;
}

const decorPlugin = {
  id: "decor",
  afterDatasetsDraw(chart: any, _args: any, opts: any) {
    const { ctx, chartArea: a, scales } = chart;
    const xs = scales.x;
    const ys = scales.y;
    ctx.save();
    ctx.strokeStyle = "#000";
    ctx.lineWidth = 1.4;
    ctx.beginPath();
    for (const v of opts.xTicks as number[]) {
      const px = Math.round(xs.getPixelForValue(v)) + 0.5;
      const major = Math.abs(v - Math.round(v)) < 1e-6;
      const len = major ? 23 : 11.5;
      ctx.moveTo(px, a.bottom);
      ctx.lineTo(px, a.bottom - len);
      ctx.moveTo(px, a.top);
      ctx.lineTo(px, a.top + len);
    }
    for (const v of opts.yTicks as number[]) {
      const py = Math.round(ys.getPixelForValue(v)) + 0.5;
      const major = Math.abs(v * 2 - Math.round(v * 2)) < 1e-6;
      const len = major ? 23 : 11.5;
      ctx.moveTo(a.left, py);
      ctx.lineTo(a.left + len, py);
      ctx.moveTo(a.right, py);
      ctx.lineTo(a.right - len, py);
    }
    ctx.stroke();
    ctx.lineWidth = 2;
    ctx.strokeRect(a.left, a.top, a.right - a.left, a.bottom - a.top);
    ctx.fillStyle = "#000";
    ctx.font = `32px ${FONT}`;
    ctx.textAlign = "left";
    ctx.textBaseline = "middle";
    ctx.fillText(opts.sideLabel, 12, ys.getPixelForValue(0.185));
    ctx.restore();
  },
};

type PanelSpec = {
  stars: { x: number; y: number }[];
  median: { x: number; y: number }[];
  limitMag: number;
  limitRange: number[];
  xMin: number;
  xMax: number;
  xLabels: number[];
  xTitle: string;
  sideLabel: string;
  height: number;
  padTop: number;
  axisHeight: number;
  titlePadBottom: number;
};

function buildConfig(p: PanelSpec): any {
  return {
    type: "scatter",
    data: {
      datasets: [
        {
          label: "stars",
          data: p.stars,
          pointRadius: 1.75,
          pointHoverRadius: 1.75,
          pointBorderWidth: 0,
          pointBackgroundColor: "#000",
          borderColor: "#000",
          showLine: false,
        },
        {
          label: "zero",
          data: [
            { x: p.xMin, y: 0 },
            { x: p.xMax, y: 0 },
          ],
          showLine: true,
          pointRadius: 0,
          borderColor: "#000",
          borderWidth: 1.4,
        },
        {
          label: "median",
          data: p.median,
          showLine: true,
          pointRadius: 0,
          borderColor: "#000",
          borderWidth: 1.8,
          tension: 0,
        },
        {
          label: "limit",
          data: [
            { x: p.limitMag, y: p.limitRange[0] },
            { x: p.limitMag, y: p.limitRange[1] },
          ],
          showLine: true,
          pointRadius: 0,
          borderColor: "#000",
          borderWidth: 1.4,
          borderDash: [17, 10],
        },
      ],
    },
    options: {
      responsive: false,
      animation: false,
      events: [],
      layout: { padding: { left: 0, right: 25, top: p.padTop, bottom: 0 } },
      plugins: {
        legend: { display: false },
        tooltip: { enabled: false },
        decor: {
          xTicks: tickValues(p.xMin + 0.1, p.xMax - 0.2, 0.2),
          yTicks: tickValues(-0.8, 0.8, 0.1),
          sideLabel: p.sideLabel,
        },
      },
      scales: {
        x: {
          type: "linear",
          min: p.xMin,
          max: p.xMax,
          grid: { display: false, drawTicks: false },
          border: { display: false },
          ticks: {
            color: "#000",
            padding: 15,
            font: { family: FONT, size: 32 },
            maxRotation: 0,
            autoSkip: false,
          },
          afterBuildTicks: (scale: any) => {
            scale.ticks = p.xLabels.map((value) => ({ value }));
          },
          afterFit: (scale: any) => {
            scale.height = p.axisHeight;
            scale.paddingLeft = 0;
            scale.paddingRight = 0;
          },
          title: {
            display: true,
            text: p.xTitle,
            color: "#000",
            font: { family: FONT, size: 33 },
            padding: { top: 0, bottom: p.titlePadBottom },
          },
        },
        y: {
          type: "linear",
          min: -0.9,
          max: 0.9,
          grid: { display: false, drawTicks: false },
          border: { display: false },
          ticks: {
            color: "#000",
            padding: 22,
            font: { family: FONT, size: 32 },
            callback: (v: number) => (v === 0 ? "0" : v < 0 ? "\u2212" + Math.abs(v) : String(v)),
          },
          afterBuildTicks: (scale: any) => {
            scale.ticks = Y_LABELS.map((value) => ({ value }));
          },
          afterFit: (scale: any) => {
            scale.width = 146;
            scale.paddingTop = 0;
            scale.paddingBottom = 0;
          },
        },
      },
    },
    plugins: [decorPlugin],
  };
}

function Panel({ spec, top }: { spec: PanelSpec; top: number }) {
  const ref = useRef<HTMLCanvasElement | null>(null);
  useEffect(() => {
    if (!ref.current) return;
    const chart = new Chart(ref.current, buildConfig(spec));
    return () => chart.destroy();
  }, [spec]);
  return (
    <div style={{ position: "absolute", left: 0, top, width: 1122, height: spec.height }}>
      <canvas ref={ref} width={1122} height={spec.height} style={{ display: "block" }} />
    </div>
  );
}

const topSpec: PanelSpec = {
  stars: pairsToPoints(topStars1, topStars2, topStars3, topStars4, topStarsCore, topStarsWide),
  median: zip(topMedianX, topMedianY),
  limitMag: topLimitMag,
  limitRange: topLimitRange,
  xMin: 25.5,
  xMax: 29,
  xLabels: TOP_X_LABELS,
  xTitle: "F814W Magnitude",
  sideLabel: "\u0394I",
  height: 560,
  padTop: 14.7,
  axisHeight: 127.3,
  titlePadBottom: 30,
};

const bottomSpec: PanelSpec = {
  stars: pairsToPoints(bottomStars1, bottomStars2, bottomStars3, bottomStars4, bottomStarsCore, bottomStarsWide),
  median: zip(bottomMedianX, bottomMedianY),
  limitMag: bottomLimitMag,
  limitRange: bottomLimitRange,
  xMin: 26.5,
  xMax: 30,
  xLabels: BOTTOM_X_LABELS,
  xTitle: "F606W magnitude",
  sideLabel: "\u0394V",
  height: 538,
  padTop: 25.3,
  axisHeight: 94.7,
  titlePadBottom: 0,
};

export default function App() {
  return (
    <div style={{ position: "absolute", left: 0, top: 0, width: 1122, height: 1098, background: "#fff" }}>
      <Panel spec={topSpec} top={0} />
      <Panel spec={bottomSpec} top={560} />
    </div>
  );
}
